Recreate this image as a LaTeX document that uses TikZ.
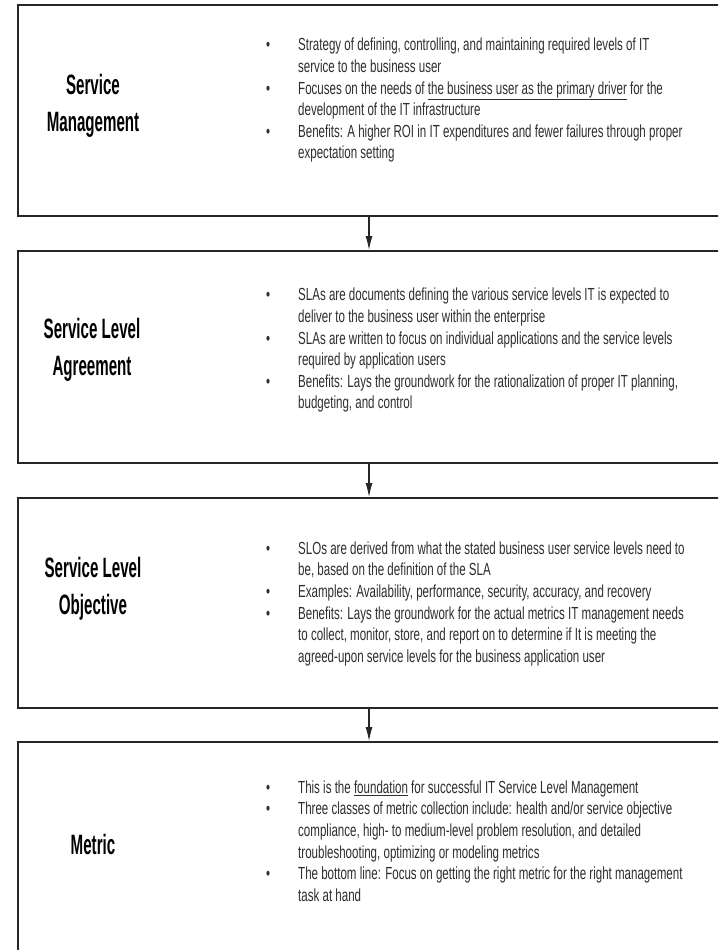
\documentclass[tikz,border=0pt]{standalone}
\usepackage{fontspec}
\setmainfont{Liberation Sans}
\newfontfamily\titlefont[FakeStretch=0.54]{Liberation Sans}
\newfontfamily\bodyfont[FakeStretch=0.66]{Liberation Sans}
\usetikzlibrary{arrows.meta}
\tikzset{
  box/.style={draw=black!85, line width=1.8pt, rectangle, minimum width=702pt, inner sep=0pt},
  ttl/.style={font=\titlefont\bfseries\fontsize{28}{36.5}\selectfont, align=center, text=black, inner sep=0pt},
  body/.style={font=\bodyfont\fontsize{17.5}{21.6}\selectfont, text=black!82, inner sep=0pt, anchor=west},
  arr/.style={draw=black!85, line width=1.2pt, -{Latex[length=14pt,width=7pt]}}
}
\newcommand{\bl}{\textbullet}
\begin{document}
\begin{tikzpicture}[x=1pt,y=-1pt]
\useasboundingbox (0,0) rectangle (718,950);
\clip (0,0) rectangle (718,950);
\fill[white] (0,0) rectangle (718,950);
% boxes: center x = 369
\node[box, minimum height=211pt] (b1) at (369,110.5) {};
\node[box, minimum height=212pt] (b2) at (369,357) {};
\node[box, minimum height=210pt] (b3) at (369,603) {};
\node[box, minimum height=240pt] (b4) at (369,862) {};
% arrows
\draw[arr] (b1.south) -- (b2.north);
\draw[arr] (b2.south) -- (b3.north);
\draw[arr] (b3.south) -- (b4.north);
% titles
\node[ttl] (t1) at (93,106) {Service\\Management};
\node[ttl] (t2) at (92,350) {Service Level\\Agreement};
\node[ttl] (t3) at (93,589) {Service Level\\Objective};
\node[ttl] (t4) at (93,844) {Metric};
% bodies
\node[body] (x1) at (266,100.5) {\begin{tabular}{@{}p{32pt}@{}l@{}}
\bl & Strategy of defining, controlling, and maintaining required levels of IT\\
 & service to the business user\\
\bl & Focuses on the needs of \underline{the business user as the primary driver} for the\\
 & development of the IT infrastructure\\
\bl & Benefits: A higher ROI in IT expenditures and fewer failures through proper\\
 & expectation setting
\end{tabular}};
\node[body] (x2) at (266,350.5) {\begin{tabular}{@{}p{32pt}@{}l@{}}
\bl & SLAs are documents defining the various service levels IT is expected to\\
 & deliver to the business user within the enterprise\\
\bl & SLAs are written to focus on individual applications and the service levels\\
 & required by application users\\
\bl & Benefits: Lays the groundwork for the rationalization of proper IT planning,\\
 & budgeting, and control
\end{tabular}};
\node[body] (x3) at (266,604) {\begin{tabular}{@{}p{32pt}@{}l@{}}
\bl & SLOs are derived from what the stated business user service levels need to\\
 & be, based on the definition of the SLA\\
\bl & Examples: Availability, performance, security, accuracy, and recovery\\
\bl & Benefits: Lays the groundwork for the actual metrics IT management needs\\
 & to collect, monitor, store, and report on to determine if It is meeting the\\
 & agreed-upon service levels for the business application user
\end{tabular}};
\node[body] (x4) at (266,843) {\begin{tabular}{@{}p{32pt}@{}l@{}}
\bl & This is the \underline{foundation} for successful IT Service Level Management\\
\bl & Three classes of metric collection include: health and/or service objective\\
 & compliance, high- to medium-level problem resolution, and detailed\\
 & troubleshooting, optimizing or modeling metrics\\
\bl & The bottom line: Focus on getting the right metric for the right management\\
 & task at hand
\end{tabular}};
\end{tikzpicture}
\end{document}
